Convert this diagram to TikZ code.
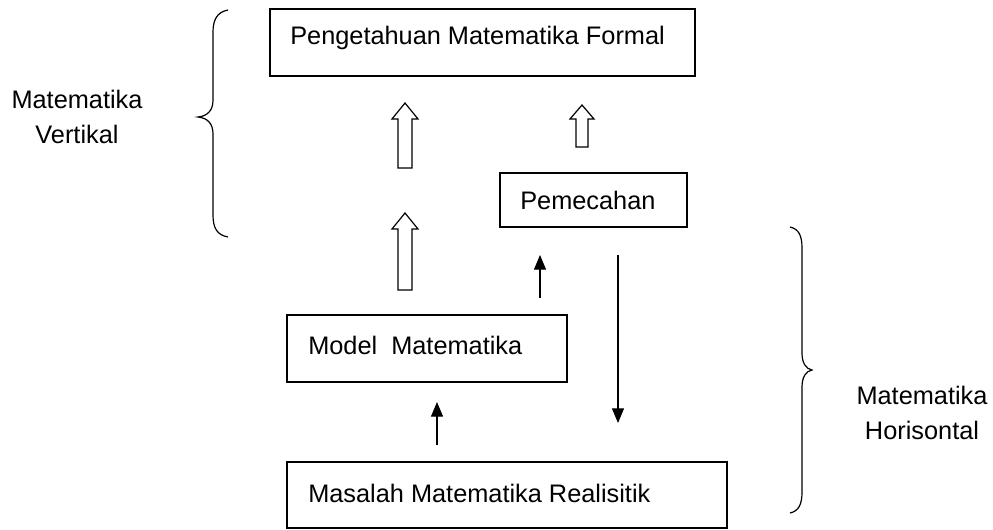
\documentclass[tikz,border=0pt]{standalone}
\usepackage{fontspec}
\setmainfont{Liberation Sans}
\usetikzlibrary{arrows.meta}
\begin{document}
\begin{tikzpicture}[x=0.75pt,y=-0.75pt,
  lbl/.style={font=\fontsize{19}{22}\selectfont,anchor=west,inner sep=0pt},
  side/.style={font=\fontsize{19}{26}\selectfont,align=center,inner sep=0pt},
  arr/.style={line width=0.8pt,-{Triangle[length=11pt,width=9pt]}},
  hollow/.style={draw,line width=0.9pt,fill=white},
  brace/.style={draw,line width=0.9pt}]
\useasboundingbox (0,0) rectangle (993,529);
% boxes
\draw[line width=0.9pt] (270,9) rectangle (695,76);
\node[lbl] (t1) at (290,38) {Pengetahuan Matematika Formal};
\draw[line width=0.9pt] (500,173) rectangle (687,227);
\node[lbl] (t2) at (520,200) {Pemecahan};
\draw[line width=0.9pt] (287,315) rectangle (567,382);
\node[lbl] (t3) at (308,345) {Model\ \ Matematika};
\draw[line width=0.9pt] (287,462) rectangle (727,528);
\node[lbl] (t4) at (308,493) {Masalah Matematika Realisitik};
\coordinate (pemB) at (540,255);
\coordinate (modT) at (540,298);
\coordinate (d1) at (618,255);
\coordinate (d2) at (618,423);
\coordinate (u1) at (437,445);
\coordinate (u2) at (437,402);
\draw[arr] (modT) -- (pemB);
\draw[arr] (d1) -- (d2);
\draw[arr] (u1) -- (u2);
% hollow arrows
\draw[hollow] (398,168) -- (398,119) -- (392,119) -- (405,103) -- (418,119) -- (412,119) -- (412,168) -- cycle;
\draw[hollow] (398,290) -- (398,229) -- (392,229) -- (405,213) -- (418,229) -- (412,229) -- (412,290) -- cycle;
\draw[hollow] (576,147) -- (576,119) -- (570,119) -- (582,105) -- (594,119) -- (588,119) -- (588,147) -- cycle;
% braces
\draw[brace] (228,10) .. controls (217,12) and (213,20) .. (213,32) -- (213,100) .. controls (213,110) and (208,116) .. (198,117) .. controls (208,118) and (213,124) .. (213,134) -- (213,215) .. controls (213,228) and (217,235) .. (228,237);
\draw[brace] (790,227) .. controls (799,229) and (802,236) .. (802,248) -- (802,353) .. controls (802,363) and (806,369) .. (812,370) .. controls (806,371) and (802,377) .. (802,387) -- (802,492) .. controls (802,504) and (799,511) .. (790,513);
\node[side] (mv) at (77,117) {Matematika\\Vertikal};
\node[side] (mh) at (922,413) {Matematika\\Horisontal};
\end{tikzpicture}
\end{document}
